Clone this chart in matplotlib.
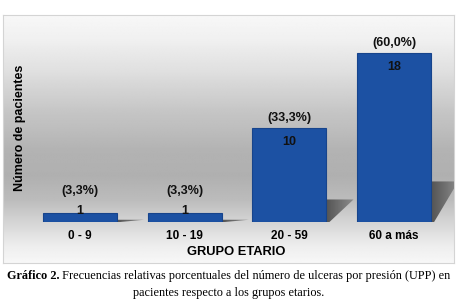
import numpy as np
import matplotlib
matplotlib.use("Agg")
import matplotlib.pyplot as plt
from matplotlib.patches import Polygon

categories = ["0 - 9", "10 - 19", "20 - 59", "60 a más"]
values = [1, 1, 10, 18]
percents = ["(3,3%)", "(3,3%)", "(33,3%)", "(60,0%)"]
xlabel = "GRUPO ETARIO"
ylabel = "Número de pacientes"
caption_bold = "Gráfico 2."
caption_rest = " Frecuencias relativas porcentuales del número de ulceras por presión (UPP) en"
caption_line2 = "pacientes respecto a los grupos etarios."

W, H = 457, 304
fig = plt.figure(figsize=(W / 100, H / 100), dpi=100)
fig.patch.set_facecolor("white")

# background panel with vertical gradient
bg = fig.add_axes([3 / W, 41 / H, 451 / W, 248 / H])
stops = [(0.0, 0.97), (0.10, 0.94), (0.22, 0.88), (0.38, 0.78), (0.55, 0.70),
         (0.65, 0.69), (0.75, 0.74), (0.84, 0.84), (0.93, 0.93), (1.0, 0.97)]
ys = np.linspace(0, 1, 256)
vals = np.interp(ys, [s[0] for s in stops], [s[1] for s in stops])
grad = np.repeat(vals[:, None], 2, axis=1)
bg.imshow(grad, aspect="auto", cmap="gray", vmin=0, vmax=1,
          extent=[0, 1, 1, 0], interpolation="bilinear")
bg.set_xlim(0, 1)
bg.set_ylim(1, 0)
bg.set_xticks([]); bg.set_yticks([])
for s in bg.spines.values():
    s.set_color("#d4d4d4")
    s.set_linewidth(0.8)

ax = fig.add_axes([27.7 / W, 82 / H, 418.6 / W, 187.8 / H])
ax.patch.set_alpha(0)
x = np.arange(len(categories))
bw = 0.707

# cast shadows (clipped to background panel)
hgrad = np.linspace(0.33, 0.55, 64)[None, :]
for xi, v in zip(x, values):
    xr = xi + bw / 2
    sh = 0.24 * v
    d = 0.26
    poly = Polygon([(xr, 0), (xr, sh), (xr + d, sh), (xr + 0.03, 0)],
                   closed=True, facecolor="none", edgecolor="none",
                   transform=ax.transData)
    ax.add_patch(poly)
    im = ax.imshow(hgrad, cmap="gray", vmin=0, vmax=1, aspect="auto",
                   extent=[xr, xr + d, 0, sh], zorder=1, interpolation="bilinear")
    im.set_clip_path(poly)
    im.set_clip_box(bg.bbox)

ax.set_xlim(-0.5, len(categories) - 0.5)
ax.set_ylim(0, 20)
ax.set_aspect("auto")

bars = ax.bar(x, values, width=bw, color="#1c51a3", edgecolor="#17448c",
              linewidth=0.8, zorder=2)

lab_fs = 9
for xi, v, p in zip(x, values, percents):
    if v >= 5:
        ax.annotate(str(v), (xi, v), xytext=(0, -5.5), textcoords="offset points",
                    ha="center", va="top", fontsize=lab_fs, fontweight="bold",
                    color="#111111", family="Liberation Sans", zorder=3)
        ax.annotate(p, (xi, v), xytext=(0, 2.8), textcoords="offset points",
                    ha="center", va="bottom", fontsize=lab_fs, fontweight="bold",
                    color="#111111", family="Liberation Sans", zorder=3)
    else:
        ax.annotate(str(v), (xi, v), xytext=(0, 1.5), textcoords="offset points",
                    ha="center", va="center", fontsize=lab_fs, fontweight="bold",
                    color="#111111", family="Liberation Sans", zorder=3)
        ax.annotate(p, (xi, v), xytext=(0, 11.5), textcoords="offset points",
                    ha="center", va="bottom", fontsize=lab_fs, fontweight="bold",
                    color="#111111", family="Liberation Sans", zorder=3)

ax.set_xticks(x)
ax.set_xticklabels(categories, fontsize=8.5, fontweight="bold", family="Liberation Sans")
ax.tick_params(axis="x", length=0, pad=6)
ax.set_yticks([])
for s in ax.spines.values():
    s.set_visible(False)

fig.text(236.5 / W, (H - 252) / H, xlabel, ha="center", va="center",
         fontsize=9.3, fontweight="bold", family="Liberation Sans")
fig.text(20 / W, (H - 128) / H, ylabel, ha="center", va="center", rotation=90,
         fontsize=9, fontweight="bold", family="Liberation Sans")

# caption
fs = 8.8
fig.canvas.draw()
r = fig.canvas.get_renderer()
t1 = fig.text(0, (H - 276) / H, caption_bold, fontsize=fs, fontweight="bold",
              family="Liberation Serif", va="center", ha="left")
t2 = fig.text(0, (H - 276) / H, caption_rest, fontsize=fs,
              family="Liberation Serif", va="center", ha="left")
w1 = t1.get_window_extent(r).width
w2 = t2.get_window_extent(r).width
x0 = (W - (w1 + w2)) / 2
t1.set_x(x0 / W)
t2.set_x((x0 + w1) / W)
fig.text(0.5, (H - 293) / H, caption_line2, fontsize=fs, family="Liberation Serif",
         va="center", ha="center")

fig.savefig("out.png", dpi=100)
